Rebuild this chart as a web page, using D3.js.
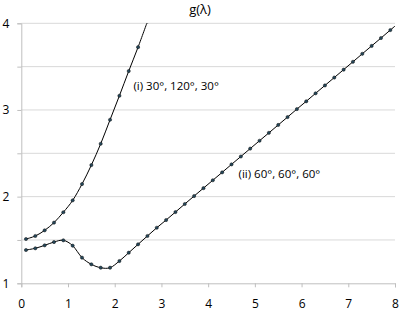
<!DOCTYPE html>
<html>
<head>
<meta charset="utf-8">
<script src="https://cdn.jsdelivr.net/npm/d3@7"></script>
<style>
  body { margin: 0; background: #fff; }
  svg { display: block; font-family: "Open Sans", sans-serif; }
</style>
</head>
<body>
<div id="chart"></div>
<script>
// lambda values sampled every 0.2
const xsI = [0.1, 0.3, 0.5, 0.7, 0.9, 1.1, 1.3, 1.5, 1.7, 1.9, 2.1, 2.3, 2.5, 2.7];
const gI = [1.511, 1.546, 1.611, 1.70, 1.82, 1.957, 2.145, 2.364, 2.61, 2.887, 3.164, 3.449, 3.725, 4.02];

const xsII = [0.1, 0.3, 0.5, 0.7, 0.9, 1.1, 1.3, 1.5, 1.7, 1.9, 2.1, 2.3, 2.5, 2.7, 2.9,
  3.1, 3.3, 3.5, 3.7, 3.9, 4.1, 4.3, 4.5, 4.7, 4.9, 5.1, 5.3, 5.5, 5.7, 5.9,
  6.1, 6.3, 6.5, 6.7, 6.9, 7.1, 7.3, 7.5, 7.7, 7.9, 8.1];
const gII = [1.384, 1.404, 1.438, 1.476, 1.496, 1.434, 1.296, 1.219, 1.18, 1.18, 1.257, 1.353, 1.45, 1.546, 1.641,
  1.730, 1.822, 1.915, 2.007, 2.098, 2.189, 2.28, 2.372, 2.463, 2.554, 2.645, 2.736, 2.827, 2.918, 3.01,
  3.10, 3.192, 3.283, 3.374, 3.465, 3.556, 3.648, 3.739, 3.83, 3.922, 4.013];

const xTicks = [0, 1, 2, 3, 4, 5, 6, 7, 8];
const yGrid = [1, 1.5, 2, 2.5, 3, 3.5, 4];
const yLabels = [1, 2, 3, 4];

const title = 'g(λ)';
const labelI = '(i) 30°, 120°, 30°';
const labelII = '(ii) 60°, 60°, 60°';

const svgWidth = 399;
const svgHeight = 312;
const margin = { top: 23.3, right: 4, bottom: 28.7, left: 21.3 };
const width = svgWidth - margin.left - margin.right;
const height = svgHeight - margin.top - margin.bottom;

const svg = d3.select('#chart').append('svg')
  .attr('width', svgWidth)
  .attr('height', svgHeight);

const g = svg.append('g')
  .attr('transform', `translate(${margin.left},${margin.top})`);

const xScale = d3.scaleLinear().domain([0, 8]).range([0, width]);
const yScale = d3.scaleLinear().domain([1, 4]).range([height, 0]);

// gridlines
g.append('g')
  .selectAll('line')
  .data(yGrid.slice(1))
  .join('line')
  .attr('x1', 0)
  .attr('x2', width)
  .attr('y1', d => yScale(d))
  .attr('y2', d => yScale(d))
  .attr('stroke', '#d9d9d9')
  .attr('stroke-width', 1);

// y axis (ticks at every 0.5, labels at integers)
const yAxis = g.append('g')
  .call(d3.axisLeft(yScale)
    .tickValues(yGrid)
    .tickSize(4)
    .tickPadding(8)
    .tickFormat(d => yLabels.includes(d) ? d3.format('d')(d) : ''));

// x axis
const xAxis = g.append('g')
  .attr('transform', `translate(0,${height})`)
  .call(d3.axisBottom(xScale)
    .tickValues(xTicks)
    .tickSize(4)
    .tickPadding(12)
    .tickFormat(d3.format('d')));

[xAxis, yAxis].forEach(ax => {
  ax.select('.domain').attr('stroke', '#bfbfbf');
  ax.selectAll('.tick line').attr('stroke', '#bfbfbf');
  ax.selectAll('.tick text')
    .attr('fill', '#000')
    .style('font-size', '12px')
    .style('font-family', '"Open Sans", sans-serif');
});

// clip to plot area
g.append('clipPath')
  .attr('id', 'plot-clip')
  .append('rect')
  .attr('x', 0)
  .attr('y', 0)
  .attr('width', width)
  .attr('height', height);

const plot = g.append('g').attr('clip-path', 'url(#plot-clip)');

const line = d3.line()
  .x(d => xScale(d[0]))
  .y(d => yScale(d[1]))
  .curve(d3.curveCatmullRom.alpha(0));

const series = [
  d3.zip(xsI, gI),
  d3.zip(xsII, gII)
];

series.forEach(pts => {
  plot.append('path')
    .datum(pts)
    .attr('d', line)
    .attr('fill', 'none')
    .attr('stroke', '#000')
    .attr('stroke-width', 1);

  plot.append('g')
    .selectAll('circle')
    .data(pts)
    .join('circle')
    .attr('cx', d => xScale(d[0]))
    .attr('cy', d => yScale(d[1]))
    .attr('r', 1.6)
    .attr('fill', '#24475a')
    .attr('stroke', '#111')
    .attr('stroke-width', 0.5);
});

// title
svg.append('text')
  .attr('x', 200)
  .attr('y', 14)
  .attr('text-anchor', 'middle')
  .style('font-size', '13px')
  .attr('fill', '#000')
  .text(title);

// series labels
g.append('text')
  .attr('x', xScale(2.4))
  .attr('y', yScale(3.28))
  .attr('dy', '0.35em')
  .style('font-size', '11.5px')
  .attr('fill', '#000')
  .text(labelI);

g.append('text')
  .attr('x', xScale(4.65))
  .attr('y', yScale(2.26))
  .attr('dy', '0.35em')
  .style('font-size', '11.5px')
  .attr('fill', '#000')
  .text(labelII);
</script>
</body>
</html>
